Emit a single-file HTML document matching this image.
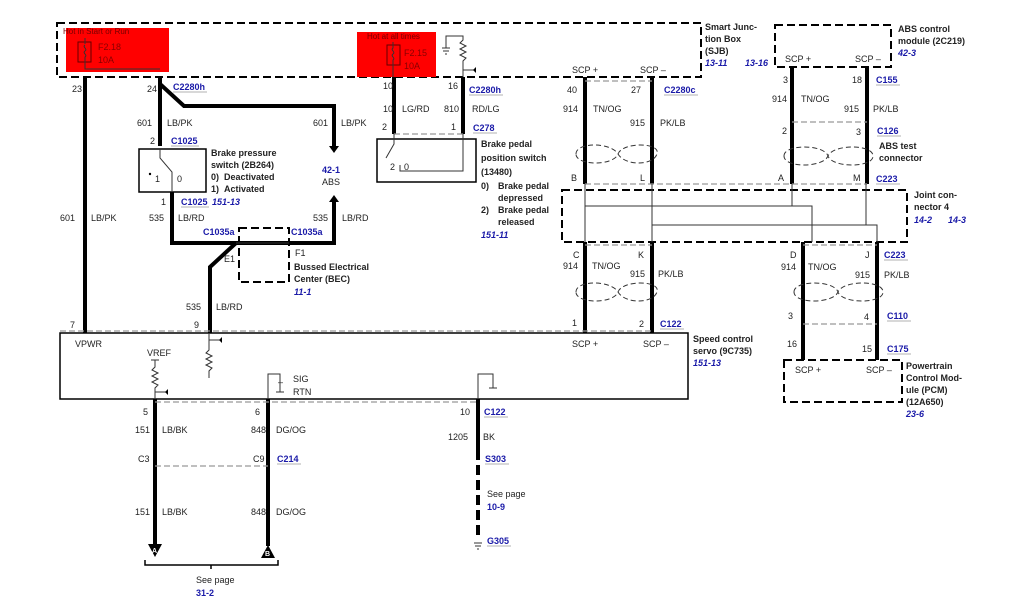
<!DOCTYPE html>
<html><head><meta charset="utf-8"><style>
html,body{margin:0;padding:0;background:#fff;}
svg{display:block;font-family:"Liberation Sans",sans-serif;}
text{font-size:9px;fill:#222;}
.b{font-weight:bold;}
.bl{fill:#1a1aa8;font-weight:bold;}
.bi{fill:#1a1aa8;font-weight:bold;font-style:italic;}
.w{stroke:#000;stroke-width:4;fill:none;}
.t{stroke:#333;stroke-width:1;fill:none;}
.d{stroke:#000;stroke-width:2;fill:none;stroke-dasharray:8,4;}
.g{stroke:#999;stroke-width:1.2;fill:none;stroke-dasharray:6,3;}
.u{stroke:#999;stroke-width:0.8;}
</style></head><body>
<svg width="1024" height="600" viewBox="0 0 1024 600" xmlns="http://www.w3.org/2000/svg">
<!-- SJB -->
<rect x="57" y="23" width="644" height="54" class="d"/>
<rect x="66" y="28" width="103" height="44" fill="#f00"/>
<rect x="357" y="32" width="79" height="45" fill="#f00"/>
<text x="63" y="34" style="fill:#700;font-size:8px">Hot in Start or Run</text>
<text x="367" y="39" style="fill:#700;font-size:8px">Hot at all times</text>
<rect x="78" y="42" width="13" height="20" fill="none" stroke="#600"/>
<path d="M85 38V44M85 45c-3 2 3 4 0 6s3 4 0 6V69H160" class="t"/>
<text x="98" y="50" style="fill:#800">F2.18</text><text x="98" y="63" style="fill:#800">10A</text>
<rect x="387" y="45" width="13" height="20" fill="none" stroke="#600"/>
<path d="M393 42V48c-3 2 3 4 0 6s3 4 0 6V77" class="t"/>
<text x="404" y="56" style="fill:#800">F2.15</text><text x="404" y="69" style="fill:#800">10A</text>
<path d="M446 48V36H463V40l-3 3 6 3-6 3 6 3-6 3 6 3-3 3V77M463 70H476M442 48h8M443 51h6M445 54h2" class="t"/>
<path d="M476 67v6l-3-3z" fill="#000"/>
<text x="705" y="30" class="b">Smart Junc-</text><text x="705" y="42" class="b">tion Box</text><text x="705" y="54" class="b">(SJB)</text>
<text x="705" y="66" class="bi">13-11</text><text x="745" y="66" class="bi">13-16</text>
<text x="572" y="73">SCP +</text><text x="640" y="73">SCP –</text>
<!-- ABS module -->
<rect x="775" y="25" width="116" height="42" class="d"/>
<text x="898" y="32" class="b">ABS control</text><text x="898" y="44" class="b">module (2C219)</text><text x="898" y="56" class="bi">42-3</text>
<text x="785" y="62">SCP +</text><text x="855" y="62">SCP –</text>
<!-- left wires -->
<path d="M85 77V333" class="w"/>
<path d="M160 77V146M160 84L184 106H334V148" class="w"/>
<path d="M329 146l5 7 5-7z" fill="#000"/>
<path d="M172 192V243H334V200" class="w"/>
<path d="M329 202l5-7 5 7z" fill="#000"/>
<path d="M236 243L210 267V333" class="w"/>
<rect x="139" y="149" width="67" height="43" fill="none" stroke="#000" stroke-width="1.5"/>
<path d="M160 149V158L172 172V192" class="t"/><circle cx="150" cy="174" r="1.2"/>
<text x="155" y="182">1</text><text x="177" y="182">0</text>
<rect x="239" y="228" width="50" height="54" class="d" stroke-width="1.5"/>
<path d="M236 243H289" class="t"/>
<text x="72" y="92">23</text><text x="147" y="92">24</text>
<text x="173" y="90" class="bl">C2280h</text>
<text x="137" y="126">601</text><text x="167" y="126">LB/PK</text>
<text x="313" y="126">601</text><text x="341" y="126">LB/PK</text>
<text x="150" y="144">2</text><text x="171" y="144" class="bl">C1025</text>
<text x="211" y="156" class="b">Brake pressure</text><text x="211" y="168" class="b">switch (2B264)</text>
<text x="211" y="180" class="b">0)&#160;&#160;Deactivated</text><text x="211" y="192" class="b">1)&#160;&#160;Activated</text>
<text x="322" y="173" class="bl">42-1</text><text x="322" y="185">ABS</text>
<text x="161" y="205">1</text><text x="181" y="205" class="bl">C1025</text><text x="212" y="205" class="bi">151-13</text>
<text x="60" y="221">601</text><text x="91" y="221">LB/PK</text>
<text x="149" y="221">535</text><text x="178" y="221">LB/RD</text>
<text x="313" y="221">535</text><text x="342" y="221">LB/RD</text>
<text x="203" y="235" class="bl">C1035a</text><text x="291" y="235" class="bl">C1035a</text>
<text x="224" y="262">E1</text><text x="295" y="256">F1</text>
<text x="294" y="270" class="b">Bussed Electrical</text><text x="294" y="282" class="b">Center (BEC)</text><text x="294" y="295" class="bi">11-1</text>
<text x="186" y="310">535</text><text x="216" y="310">LB/RD</text>
<text x="70" y="328">7</text><text x="194" y="328">9</text>
<!-- brake pedal -->
<path d="M394 77V134M463 77V134" class="w"/>
<path d="M394 134H463" class="g"/>
<rect x="377" y="139" width="99" height="43" fill="none" stroke="#000" stroke-width="1.5"/>
<path d="M394 134V144L386 158M463 134V171H400V165" class="t"/>
<text x="383" y="89">10</text><text x="448" y="89">16</text><text x="469" y="93" class="bl">C2280h</text>
<text x="383" y="112">10</text><text x="402" y="112">LG/RD</text><text x="444" y="112">810</text><text x="472" y="112">RD/LG</text>
<text x="382" y="130">2</text><text x="451" y="130">1</text><text x="473" y="131" class="bl">C278</text>
<text x="390" y="170">2</text><text x="404" y="170">0</text>
<text x="481" y="147" class="b">Brake pedal</text><text x="481" y="161" class="b">position switch</text><text x="481" y="175" class="b">(13480)</text>
<text x="481" y="189" class="b">0)</text><text x="498" y="189" class="b">Brake pedal</text><text x="498" y="201" class="b">depressed</text>
<text x="481" y="213" class="b">2)</text><text x="498" y="213" class="b">Brake pedal</text><text x="498" y="225" class="b">released</text>
<text x="481" y="238" class="bi">151-11</text>
<!-- SCP wires -->
<path d="M585 77V184M652 77V184M585 242V333M652 242V333M792 67V184M867 67V184M803 242V360M877 242V360" class="w"/>
<path d="M585 81H652M585 184H867M585 245H652M803 245H877M792 122H867M803 324H877M60 331H652" class="g"/>
<rect x="562" y="190" width="345" height="52" class="d"/>
<path d="M585 184V242M652 184V242M585 206H812V242M792 184V206M652 225H877V242M866 184V225" class="t"/>
<g class="t" stroke-dasharray="5,3">
<path d="M576 154c0-12 35-12 42 0s35 12 39 0-35-12-39 0-42 12-42 0z"/>
<path d="M784 156c0-12 40-12 44 0s45 12 45 0-40-12-45 0-44 12-44 0z"/>
<path d="M576 292c0-12 35-12 42 0s35 12 39 0-35-12-39 0-42 12-42 0z"/>
<path d="M794 292c0-12 40-12 44 0s45 12 45 0-40-12-45 0-44 12-44 0z"/>
</g>
<text x="567" y="93">40</text><text x="631" y="93">27</text><text x="664" y="93" class="bl">C2280c</text>
<text x="563" y="112">914</text><text x="593" y="112">TN/OG</text><text x="630" y="126">915</text><text x="660" y="126">PK/LB</text>
<text x="783" y="83">3</text><text x="852" y="83">18</text><text x="876" y="83" class="bl">C155</text>
<text x="772" y="102">914</text><text x="801" y="102">TN/OG</text><text x="844" y="112">915</text><text x="873" y="112">PK/LB</text>
<text x="782" y="134">2</text><text x="856" y="135">3</text><text x="877" y="134" class="bl">C126</text>
<text x="879" y="149" class="b">ABS test</text><text x="879" y="161" class="b">connector</text>
<text x="571" y="181">B</text><text x="640" y="181">L</text><text x="778" y="181">A</text><text x="853" y="181">M</text><text x="876" y="182" class="bl">C223</text>
<text x="914" y="198" class="b">Joint con-</text><text x="914" y="210" class="b">nector 4</text>
<text x="914" y="223" class="bi">14-2</text><text x="948" y="223" class="bi">14-3</text>
<text x="573" y="258">C</text><text x="563" y="269">914</text><text x="592" y="269">TN/OG</text>
<text x="638" y="258">K</text><text x="630" y="277">915</text><text x="658" y="277">PK/LB</text>
<text x="790" y="258">D</text><text x="781" y="270">914</text><text x="808" y="270">TN/OG</text>
<text x="865" y="258">J</text><text x="855" y="278">915</text><text x="884" y="278">PK/LB</text><text x="884" y="258" class="bl">C223</text>
<text x="788" y="319">3</text><text x="864" y="320">4</text><text x="887" y="319" class="bl">C110</text>
<text x="572" y="326">1</text><text x="639" y="327">2</text><text x="660" y="327" class="bl">C122</text>
<text x="787" y="347">16</text><text x="862" y="352">15</text><text x="887" y="352" class="bl">C175</text>
<!-- PCM -->
<rect x="784" y="360" width="118" height="42" class="d"/>
<text x="795" y="373">SCP +</text><text x="866" y="373">SCP –</text>
<text x="906" y="369" class="b">Powertrain</text><text x="906" y="381" class="b">Control Mod-</text><text x="906" y="393" class="b">ule (PCM)</text><text x="906" y="405" class="b">(12A650)</text><text x="906" y="417" class="bi">23-6</text>
<!-- servo -->
<rect x="60" y="333" width="628" height="66" fill="none" stroke="#000" stroke-width="1.5"/>
<text x="693" y="342" class="b">Speed control</text><text x="693" y="354" class="b">servo (9C735)</text><text x="693" y="366" class="bi">151-13</text>
<text x="75" y="347">VPWR</text><text x="147" y="356">VREF</text>
<text x="572" y="347">SCP +</text><text x="643" y="347">SCP –</text>
<path d="M155 360V367l-3 3 6 3-6 3 6 3-6 3 6 3-3 3V399M155 392H168M151 360h8M209 333V350l-3 3 6 3-6 3 6 3-6 3 6 3-3 3V378M209 340H222M268 399V374H280V392M276 392h8M478 399V374H493V388M489 388h8" class="t"/>
<path d="M168 389v6l-3-3zM222 337v6l-3-3z" fill="#000"/>
<text x="278" y="385">–</text><text x="293" y="382">SIG</text><text x="293" y="395">RTN</text>
<!-- bottom wires -->
<path d="M155 399V546M268 399V546M478 399V450" class="w"/>
<path d="M478 450V540" stroke="#000" stroke-width="4" stroke-dasharray="10,5"/>
<path d="M155 402H478M155 466H268" class="g"/>
<path d="M148 544h14l-7 13z" fill="#000"/><text x="152" y="553" style="fill:#fff;font-size:7px;font-weight:bold">A</text>
<path d="M261 558h14l-7-13z" fill="#000"/><text x="265" y="556" style="fill:#fff;font-size:7px;font-weight:bold">B</text>
<path d="M145 560V565H278V560M211 565V569" stroke="#000" stroke-width="1.5" fill="none"/>
<circle cx="478" cy="458" r="2"/><path d="M474 543h8M475 546h6M477 549h2" class="t"/>
<text x="143" y="415">5</text><text x="255" y="415">6</text><text x="460" y="415">10</text><text x="484" y="415" class="bl">C122</text>
<text x="135" y="433">151</text><text x="162" y="433">LB/BK</text><text x="251" y="433">848</text><text x="276" y="433">DG/OG</text>
<text x="448" y="440">1205</text><text x="483" y="440">BK</text>
<text x="138" y="462">C3</text><text x="253" y="462">C9</text><text x="277" y="462" class="bl">C214</text><text x="485" y="462" class="bl">S303</text>
<text x="487" y="497">See page</text><text x="487" y="510" class="bl">10-9</text><text x="487" y="544" class="bl">G305</text>
<text x="135" y="515">151</text><text x="162" y="515">LB/BK</text><text x="251" y="515">848</text><text x="276" y="515">DG/OG</text>
<text x="196" y="583">See page</text><text x="196" y="596" class="bl">31-2</text>
<g class="u">
<line x1="173" y1="92" x2="207" y2="92"/><line x1="171" y1="146" x2="199" y2="146"/><line x1="181" y1="207" x2="209" y2="207"/>
<line x1="469" y1="95" x2="503" y2="95"/><line x1="473" y1="133" x2="497" y2="133"/><line x1="664" y1="95" x2="698" y2="95"/>
<line x1="876" y1="85" x2="900" y2="85"/><line x1="877" y1="136" x2="901" y2="136"/><line x1="876" y1="184" x2="900" y2="184"/>
<line x1="884" y1="260" x2="908" y2="260"/><line x1="887" y1="321" x2="911" y2="321"/><line x1="660" y1="329" x2="684" y2="329"/>
<line x1="887" y1="354" x2="911" y2="354"/><line x1="484" y1="417" x2="508" y2="417"/><line x1="277" y1="464" x2="301" y2="464"/>
<line x1="485" y1="464" x2="509" y2="464"/><line x1="487" y1="546" x2="511" y2="546"/>
</g>
</svg>
</body></html>
